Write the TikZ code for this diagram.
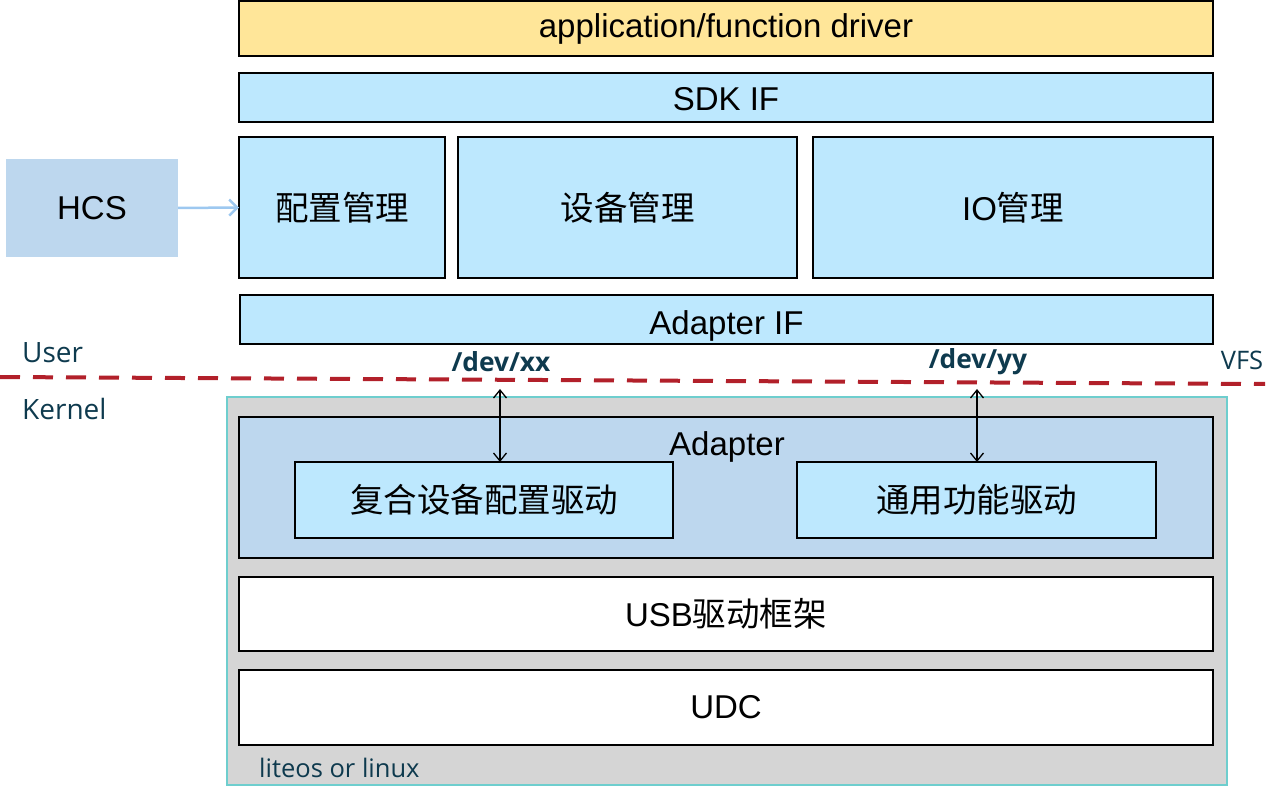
\documentclass[tikz,border=0pt]{standalone}
\usepackage{fontspec}
\setmainfont{Liberation Sans}
\newfontfamily\cjk{Noto Sans CJK SC}
\newfontfamily\lbl{Open Sans}
\usetikzlibrary{arrows.meta}
\definecolor{appyellow}{HTML}{FFE699}
\definecolor{boxblue}{HTML}{BDE8FE}
\definecolor{adblue}{HTML}{BDD7EE}
\definecolor{kgray}{HTML}{D5D5D5}
\definecolor{kteal}{HTML}{6ECECE}
\definecolor{dashred}{HTML}{B2202A}
\definecolor{lbltext}{HTML}{0E3A4E}
\definecolor{hcsarrow}{HTML}{9DC8F0}
\begin{document}
\begin{tikzpicture}[x=1pt,y=-1pt,
  box/.style={draw=black,line width=2pt,inner sep=0pt,outer sep=0pt,font=\fontsize{33}{38}\selectfont},
  bluebox/.style={box,fill=boxblue},
  whitebox/.style={box,fill=white},
  lbltxt/.style={text=lbltext,inner sep=0pt,font=\lbl\fontsize{28}{32}\selectfont},
  devtxt/.style={text=lbltext,inner sep=0pt,font=\lbl\bfseries\fontsize{26.3}{30}\selectfont},
  dbl/.style={line width=1.3pt,{Straight Barb[length=8pt,width=13pt]}-{Straight Barb[length=8pt,width=13pt]}}
]
\useasboundingbox (0,0) rectangle (1280,791);
% top layers
\node[box,fill=appyellow,minimum width=974pt,minimum height=55pt] (app) at (726,28.5) {application/function driver};
\node[bluebox,minimum width=974pt,minimum height=49pt,text height=26.6pt,text depth=0pt] (sdk) at (726,97.5) {SDK IF};
\node[bluebox,minimum width=206pt,minimum height=141pt] (pz) at (342,207.5) {\cjk\fontsize{33.5}{38}\selectfont 配置管理};
\node[bluebox,minimum width=339pt,minimum height=141pt] (sb) at (627.5,207.5) {\cjk\fontsize{33.5}{38}\selectfont 设备管理};
\node[bluebox,minimum width=400pt,minimum height=141pt] (io) at (1013,207.5) {IO{\cjk\fontsize{33.5}{38}\selectfont 管理}};
\node[bluebox,minimum width=973pt,minimum height=49pt,text height=29.6pt,text depth=0pt] (aif) at (726.5,319.5) {Adapter IF};
% HCS
\node[fill=adblue,inner sep=0pt,minimum width=172pt,minimum height=98pt,font=\fontsize{33}{38}\selectfont] (hcs) at (92,208) {HCS};
\draw[hcsarrow,line width=2.5pt,-{Straight Barb[length=8pt,width=16pt]}] (hcs.east) -- (pz.west);
% user/kernel
\draw[dashred,line width=4pt,dash pattern=on 20pt off 13pt] (0,377) -- (1265,384);
\node[lbltxt,anchor=west] (user) at (22,353) {User};
\node[lbltxt,anchor=west] (kernel) at (22,409) {Kernel};
\node[lbltxt,anchor=center,font=\lbl\fontsize{25.5}{30}\selectfont] (vfs) at (1242,360) {VFS};
\node[devtxt] (devxx) at (501,362) {/dev/xx};
\node[devtxt] (devyy) at (978,362) {/dev/yy};
% kernel area
\node[draw=kteal,line width=2pt,fill=kgray,inner sep=0pt,minimum width=1000pt,minimum height=388pt] (kern) at (727,591) {};
\node[box,fill=adblue,minimum width=974pt,minimum height=141pt] (adp) at (726,487.5) {};
\node[inner sep=0pt,anchor=base,font=\fontsize{33}{38}\selectfont] (adptxt) at (727,455) {Adapter};
\node[bluebox,minimum width=378pt,minimum height=76pt] (fh) at (484,500) {\cjk\fontsize{33.5}{38}\selectfont 复合设备配置驱动};
\node[bluebox,minimum width=359pt,minimum height=76pt] (ty) at (976.5,500) {\cjk\fontsize{33.5}{38}\selectfont 通用功能驱动};
\node[whitebox,minimum width=974pt,minimum height=74pt] (usb) at (726,614) {USB{\cjk\fontsize{33.5}{38}\selectfont 驱动框架}};
\node[whitebox,minimum width=974pt,minimum height=75pt] (udc) at (726,707.5) {UDC};
\node[lbltxt,anchor=west,font=\lbl\fontsize{25.5}{30}\selectfont] (os) at (259,768) {liteos or linux};
% vertical arrows
\coordinate (xxtop) at (500,389);
\coordinate (yytop) at (977,389);
\draw[dbl] (xxtop) -- (xxtop |- fh.north);
\draw[dbl] (yytop) -- (yytop |- ty.north);
\end{tikzpicture}
\end{document}
